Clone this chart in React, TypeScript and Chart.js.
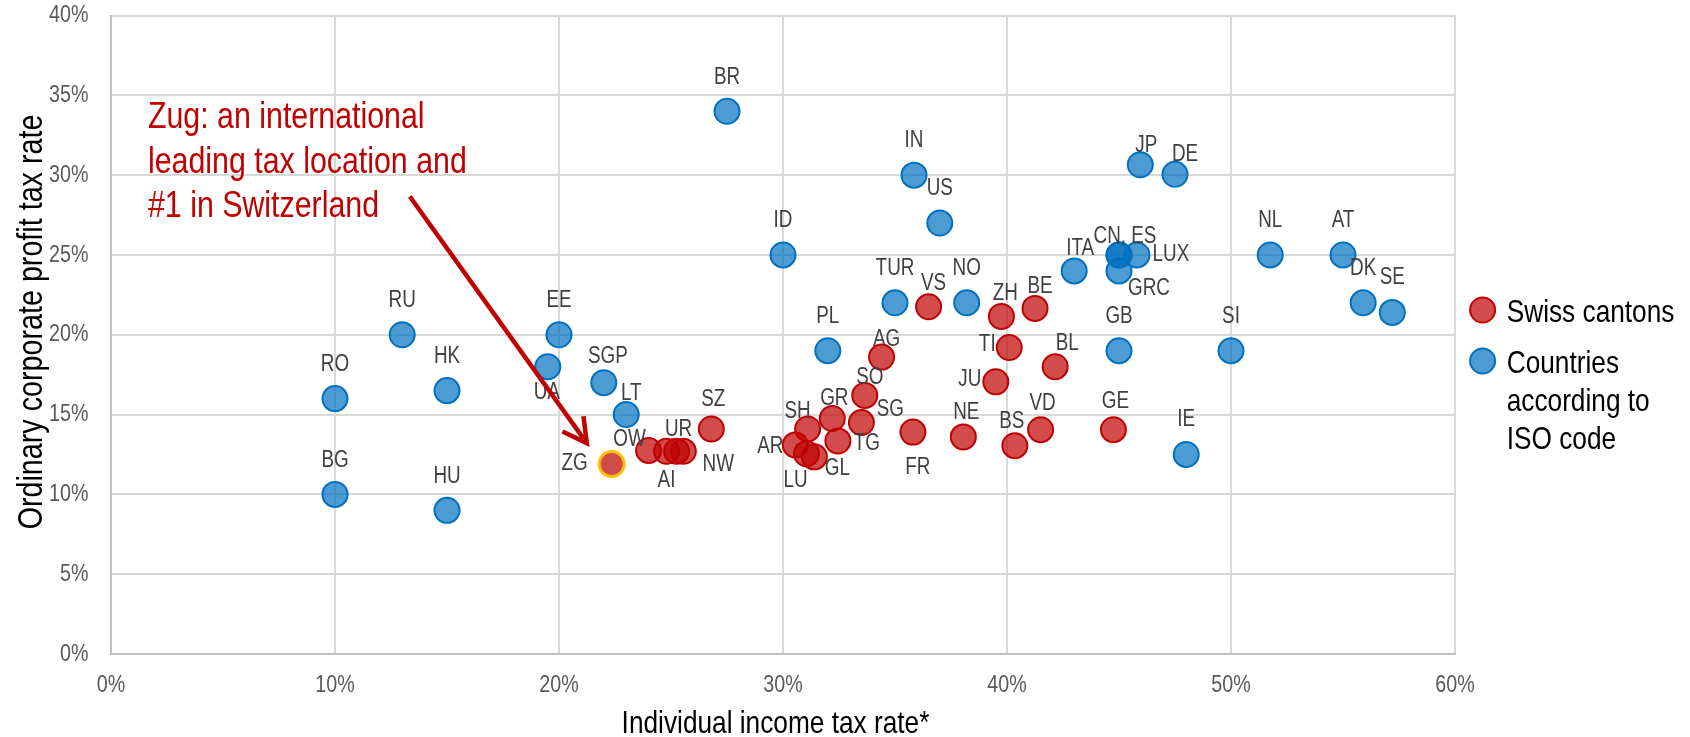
import React, { useEffect, useRef } from "react";
import { Chart, registerables } from "chart.js";

Chart.register(...registerables);

// ---------- DATA ----------
const cantonNames = ["ZG", "OW", "AI", "UR", "NW", "SZ", "AR", "LU", "GL", "SH", "GR", "TG", "SG", "SO", "AG", "FR", "VS", "NE", "JU", "ZH", "TI", "BS", "BE", "VD", "BL", "GE"];
const cantonIncomeTax = [22.35, 24.0, 24.8, 25.25, 25.55, 26.8, 30.55, 31.05, 31.4, 31.1, 32.2, 32.45, 33.5, 33.65, 34.4, 35.8, 36.5, 38.05, 39.5, 39.75, 40.1, 40.35, 41.25, 41.5, 42.15, 44.75];
const cantonProfitTax = [11.9, 12.75, 12.7, 12.7, 12.7, 14.1, 13.1, 12.55, 12.35, 14.1, 14.75, 13.35, 14.5, 16.2, 18.6, 13.9, 21.75, 13.6, 17.05, 21.15, 19.2, 13.05, 21.65, 14.05, 18.0, 14.05];

const countryNames = ["RO", "BG", "RU", "HK", "HU", "UA", "EE", "SGP", "LT", "BR", "ID", "PL", "TUR", "IN", "US", "NO", "ITA", "CN", "ES", "LUX", "GRC", "GB", "JP", "DE", "IE", "SI", "NL", "AT", "DK", "SE"];
const countryIncomeTax = [10, 10, 13, 15, 15, 19.5, 20, 22, 23, 27.5, 30, 32, 35, 35.85, 37, 38.2, 43, 45, 45, 45.8, 45, 45, 45.95, 47.5, 48, 50, 51.75, 55, 55.9, 57.2];
const countryProfitTax = [16, 10, 20, 16.5, 9, 18, 20, 17, 15, 34, 25, 19, 22, 30, 27, 22, 24, 25, 25, 25, 24, 19, 30.65, 30.05, 12.5, 19, 25, 25, 22, 21.4];

const seriesNames = ["Swiss cantons", "Countries according to ISO code"];
const legendLines = [["Swiss cantons"], ["Countries", "according to", "ISO code"]];
const xTickValues = [0, 10, 20, 30, 40, 50, 60];
const yTickValues = [0, 5, 10, 15, 20, 25, 30, 35, 40];
const xAxisTitle = "Individual income tax rate*";
const yAxisTitle = "Ordinary corporate profit tax rate";
const highlightCanton = "ZG";

const annotationLines = ["Zug: an international", "leading tax location and", "#1 in Switzerland"];
const annotationAnchor = { x: 1.65, y: 32.94 };
const arrowStart = { x: 13.34, y: 28.66 };
const arrowEnd = { x: 21.24, y: 13.21 };

// ---------- STYLE ----------
const FONT = "'Liberation Sans', Arial, sans-serif";
const NARROW = 0.82; // Arial Narrow ~ 82% width of Arial
const RED = "#C00000";
const RED_FILL = "rgba(192,0,0,0.7)";
const BLUE = "#0070C0";
const BLUE_FILL = "rgba(0,112,192,0.7)";
const GOLD = "#FFC000";
const LABEL_COLOR = "#404040";
const TICK_COLOR = "#595959";
const GRID_COLOR = "#D9D9D9";
const AXIS_COLOR = "#BFBFBF";

// label placement (pixel offsets from point centre); default is above
const labelOffsets: Record<string, [number, number]> = {
  ZG: [-37, 0], OW: [-19, -11], AI: [0, 29], UR: [2, -22], NW: [35, 13], SZ: [2, -29],
  AR: [-25, 2], LU: [-11, 27], GL: [23, 12], SH: [-10, -17], GR: [2, -20], TG: [29, 3],
  SG: [29, -13], SO: [5, -18], AG: [5, -17], FR: [5, 36], VS: [5, -23], NE: [3, -24],
  JU: [-26, -2], ZH: [4, -23], TI: [-22, -3], BS: [-3, -24], BE: [5, -22], VD: [2, -26],
  BL: [12, -23], GE: [2, -28],
  UA: [-1, 26], SGP: [4, -26], LT: [5, -21], ITA: [6, -22], CN: [6, -18], LUX: [34, 0],
  GRC: [30, 18], JP: [6, -19], DE: [10, -20], IE: [0, -35], SE: [0, -35],
};
const labelText: Record<string, string> = { CN: "CN, ES", ES: "" };

function narrowText(
  ctx: CanvasRenderingContext2D,
  text: string,
  x: number,
  y: number,
  size: number,
  color: string,
  align: CanvasTextAlign,
  baseline: CanvasTextBaseline,
  rotate = false
) {
  ctx.save();
  ctx.translate(x, y);
  if (rotate) ctx.rotate(-Math.PI / 2);
  ctx.scale(NARROW, 1);
  ctx.font = `${size}px ${FONT}`;
  ctx.fillStyle = color;
  ctx.textAlign = align;
  ctx.textBaseline = baseline;
  ctx.fillText(text, 0, 0);
  ctx.restore();
}

const textPlugin = {
  id: "texts",
  afterDatasetsDraw(chart: any) {
    const ctx = chart.ctx as CanvasRenderingContext2D;
    const groups = [cantonNames, countryNames];
    groups.forEach((names, di) => {
      const meta = chart.getDatasetMeta(di);
      names.forEach((n, i) => {
        const el = meta.data[i];
        if (!el) return;
        const off = labelOffsets[n] || [0, -34];
        const t = labelText[n] !== undefined ? labelText[n] : n;
        if (t) narrowText(ctx, t, el.x + off[0], el.y + off[1], 23, LABEL_COLOR, "center", "middle");
      });
    });
  },
  afterDraw(chart: any) {
    const ctx = chart.ctx as CanvasRenderingContext2D;
    const xs = chart.scales.x;
    const ys = chart.scales.y;
    const area = chart.chartArea;

    // tick labels
    xTickValues.forEach((v) => narrowText(ctx, v + "%", xs.getPixelForValue(v), area.bottom + 31, 24, TICK_COLOR, "center", "middle"));
    yTickValues.forEach((v) => narrowText(ctx, v + "%", area.left - 22.5, ys.getPixelForValue(v), 24, TICK_COLOR, "right", "middle"));

    // axis titles
    narrowText(ctx, xAxisTitle, 775.5, 733, 32, "#000000", "center", "alphabetic");
    narrowText(ctx, yAxisTitle, 41.5, 322, 35, "#000000", "center", "alphabetic", true);

    // annotation text
    const ax = xs.getPixelForValue(annotationAnchor.x);
    const ay = ys.getPixelForValue(annotationAnchor.y);
    annotationLines.forEach((l, i) => narrowText(ctx, l, ax, ay + i * 44.5, 37, RED, "left", "alphabetic"));

    // arrow
    ctx.save();
    const x1 = xs.getPixelForValue(arrowStart.x);
    const y1 = ys.getPixelForValue(arrowStart.y);
    const x2 = xs.getPixelForValue(arrowEnd.x);
    const y2 = ys.getPixelForValue(arrowEnd.y);
    ctx.strokeStyle = RED;
    ctx.lineWidth = 4.5;
    ctx.beginPath();
    ctx.moveTo(x1, y1);
    ctx.lineTo(x2, y2);
    ctx.stroke();
    const ang = Math.atan2(y2 - y1, x2 - x1);
    const wing = 27;
    const spread = 0.5;
    ctx.beginPath();
    ctx.moveTo(x2 - wing * Math.cos(ang - spread), y2 - wing * Math.sin(ang - spread));
    ctx.lineTo(x2, y2);
    ctx.lineTo(x2 - wing * Math.cos(ang + spread), y2 - wing * Math.sin(ang + spread));
    ctx.stroke();

    // legend
    const lx = 1482.6;
    const tx = 1506.7;
    const markers = [
      { y: 310, fill: RED_FILL, stroke: RED },
      { y: 361, fill: BLUE_FILL, stroke: BLUE },
    ];
    ctx.lineWidth = 2;
    markers.forEach((m) => {
      ctx.beginPath();
      ctx.arc(lx, m.y, 12.5, 0, Math.PI * 2);
      ctx.fillStyle = m.fill;
      ctx.fill();
      ctx.strokeStyle = m.stroke;
      ctx.stroke();
    });
    ctx.restore();
    narrowText(ctx, legendLines[0][0], tx, 321.7, 32, "#000000", "left", "alphabetic");
    legendLines[1].forEach((w, i) => narrowText(ctx, w, tx, 372.7 + i * 38.3, 32, "#000000", "left", "alphabetic"));
  },
};

export default function App() {
  const ref = useRef<HTMLCanvasElement>(null);
  useEffect(() => {
    document.body.style.margin = "0";
    const canvas = ref.current;
    if (!canvas) return;
    const chart = new Chart(canvas, {
      type: "scatter",
      data: {
        datasets: [
          {
            label: seriesNames[0],
            data: cantonIncomeTax.map((x, i) => ({ x, y: cantonProfitTax[i] })),
            pointBackgroundColor: RED_FILL,
            pointBorderColor: cantonNames.map((n) => (n === highlightCanton ? GOLD : RED)),
            pointBorderWidth: cantonNames.map((n) => (n === highlightCanton ? 3 : 2)),
            pointRadius: 12.5,
            pointHoverRadius: 12.5,
          },
          {
            label: seriesNames[1],
            data: countryIncomeTax.map((x, i) => ({ x, y: countryProfitTax[i] })),
            pointBackgroundColor: BLUE_FILL,
            pointBorderColor: BLUE,
            pointBorderWidth: 2,
            pointRadius: 12.5,
            pointHoverRadius: 12.5,
          },
        ],
      },
      options: {
        responsive: false,
        animation: false,
        layout: { padding: { top: 15, right: 235, left: 0, bottom: 0 } },
        plugins: { legend: { display: false }, tooltip: { enabled: false } },
        scales: {
          x: {
            type: "linear",
            min: 0,
            max: 60,
            afterBuildTicks: (s: any) => { s.ticks = xTickValues.map((v) => ({ value: v })); },
            afterFit: (s: any) => { s.height = 83; s.paddingLeft = 0; s.paddingRight = 0; s.paddingTop = 0; s.paddingBottom = 0; },
            ticks: { display: false },
            grid: { color: GRID_COLOR, lineWidth: 2, drawTicks: false },
            border: { color: AXIS_COLOR, width: 2 },
            title: { display: false },
          },
          y: {
            type: "linear",
            min: 0,
            max: 40,
            afterBuildTicks: (s: any) => { s.ticks = yTickValues.map((v) => ({ value: v })); },
            afterFit: (s: any) => { s.width = 111; s.paddingLeft = 0; s.paddingRight = 0; s.paddingTop = 0; s.paddingBottom = 0; },
            ticks: { display: false },
            grid: { color: GRID_COLOR, lineWidth: 2, drawTicks: false },
            border: { color: AXIS_COLOR, width: 2 },
            title: { display: false },
          },
        },
      },
      plugins: [textPlugin],
    } as any);
    return () => chart.destroy();
  }, []);
  return <canvas ref={ref} width={1690} height={737} style={{ display: "block" }} />;
}
